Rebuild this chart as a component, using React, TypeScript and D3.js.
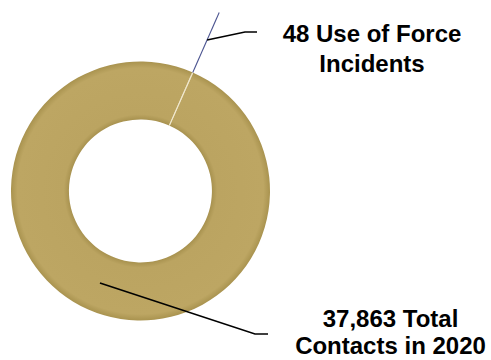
import React from "react";
import * as d3 from "d3";

const categories = ["48 Use of Force Incidents", "37,863 Total Contacts in 2020"];
const values = [48, 37863];
const labelLines = [
  ["48 Use of Force", "Incidents"],
  ["37,863 Total", "Contacts in 2020"],
];

const W = 491;
const H = 360;
const cx = 140.5;
const cy = 191;
const rOuter = 129.5;
const rInner = 71.5;

export default function App() {
  const smallAngle = (23.8 * Math.PI) / 180;
  const total = d3.sum(values);
  const half = (values[0] / total) * Math.PI;
  const pie = d3
    .pie<number>()
    .sort(null)
    .startAngle(smallAngle - half)
    .endAngle(smallAngle - half + 2 * Math.PI);
  const arcs = pie(values);
  const arc = d3.arc<d3.PieArcDatum<number>>().innerRadius(rInner).outerRadius(rOuter);

  const pt = (a: number, r: number): [number, number] => [Math.sin(a) * r, -Math.cos(a) * r];
  const mid = (d: d3.PieArcDatum<number>) => (d.startAngle + d.endAngle) / 2;

  const small = arcs[0];
  const big = arcs[1];
  const aS = mid(small);
  const aB = mid(big);

  const line = d3.line();
  const sStart = pt(aS, 165);
  const smallLeader = line([sStart, [245 - cx, 32 - cy], [257 - cx, 32 - cy]]);
  const bStart = pt(aB, (rInner + rOuter) / 2);
  const bigLeader = line([bStart, [255 - cx, 334 - cy], [268 - cx, 334 - cy]]);

  const fr = rInner / rOuter;
  const font = "'Liberation Sans', Arial, sans-serif";

  return (
    <svg
      width={W}
      height={H}
      style={{ position: "absolute", left: 0, top: 0, background: "#fff" }}
    >
      <defs>
        <radialGradient id="ring" cx={0} cy={0} r={rOuter} gradientUnits="userSpaceOnUse">
          <stop offset={fr} stopColor="#a8924f" />
          <stop offset={fr + 0.04} stopColor="#bba461" />
          <stop offset={0.95} stopColor="#bda663" />
          <stop offset={1} stopColor="#a9934f" />
        </radialGradient>
      </defs>
      <g transform={`translate(${cx},${cy})`}>
        {arcs.map((d, i) => (
          <path key={categories[i]} d={arc(d) || ""} fill="url(#ring)" />
        ))}
        <line
          x1={pt(aS, rInner)[0]}
          y1={pt(aS, rInner)[1]}
          x2={pt(aS, rOuter)[0]}
          y2={pt(aS, rOuter)[1]}
          stroke="#f3ebd2"
          strokeWidth={1.1}
        />
        <line
          x1={pt(aS, rOuter)[0]}
          y1={pt(aS, rOuter)[1]}
          x2={pt(aS, 195)[0]}
          y2={pt(aS, 195)[1]}
          stroke="#4b5490"
          strokeWidth={1.1}
        />
        <path d={smallLeader || ""} fill="none" stroke="#000" strokeWidth={1.6} />
        <path d={bigLeader || ""} fill="none" stroke="#000" strokeWidth={1.6} />
      </g>
      <text textAnchor="middle" fontFamily={font} fontWeight="bold" fontSize={24} fill="#000">
        <tspan x={372} y={41.7}>{labelLines[0][0]}</tspan>
        <tspan x={372} y={72.3}>{labelLines[0][1]}</tspan>
      </text>
      <text textAnchor="middle" fontFamily={font} fontWeight="bold" fontSize={24} fill="#000">
        <tspan x={390.5} y={327}>{labelLines[1][0]}</tspan>
        <tspan x={390.5} y={354}>{labelLines[1][1]}</tspan>
      </text>
    </svg>
  );
}
